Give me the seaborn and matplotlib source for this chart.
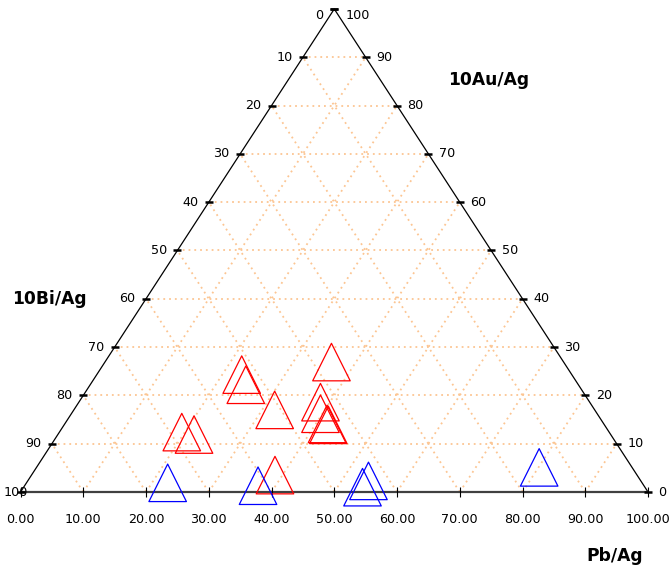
"""
Ternary diagram of Pb/Ag - 10Bi/Ag - 10Au/Ag with two sample groups.
"""
import numpy as np
import pandas as pd
import seaborn as sns
from matplotlib import pyplot as plt

# ternary compositions (percent)
red_pb = [23.1, 24.8, 32.0, 19.5, 21.7, 38.8, 36.1, 38.5, 39.7, 41.8, 42.1]
red_bi = [52.6, 53.0, 51.0, 68.1, 66.4, 57.7, 37.0, 42.9, 44.1, 44.1, 44.0]
red_au = [24.3, 22.2, 17.0, 12.4, 11.9, 3.5, 26.9, 18.6, 16.2, 14.1, 13.9]

blue_pb = [22.5, 37.2, 54.3, 54.0, 80.1]
blue_bi = [75.6, 61.5, 43.4, 45.0, 14.8]
blue_au = [1.9, 1.3, 2.3, 1.0, 5.1]

ticks = [0, 10, 20, 30, 40, 50, 60, 70, 80, 90, 100]
grid_levels = [10, 20, 30, 40, 50, 60, 70, 80, 90]

GRID_COLOR = "#fcc592"
FONT = 9.2


def to_xy(pb, bi, au):
    """Ternary -> cartesian: Pb corner bottom right, Bi bottom left, Au at top."""
    pb, bi, au = np.asarray(pb, float), np.asarray(bi, float), np.asarray(au, float)
    total = pb + bi + au
    x = 100 * (pb + au / 2) / total
    y = 100 * au / total
    return x, y


def build_df(pb, bi, au, group):
    x, y = to_xy(pb, bi, au)
    return pd.DataFrame({"x": x, "y": y, "group": group})


sns.set_style("white")
plt.rcParams.update({"text.color": "black", "font.family": ["DejaVu Sans"]})
fig = plt.figure(figsize=(6.72, 5.66), dpi=100)
ax = fig.add_axes([0, 0, 1, 1])
ax.set_xlim(-3.27, 103.82)
ax.set_ylim(-15.32, 101.86)
ax.axis("off")

# dotted grid, three families parallel to the sides
grid_kw = dict(color=GRID_COLOR, lw=1.3, ls=(0, (1, 2.2)), zorder=1)
for v in grid_levels:
    ax.plot([v / 2, 100 - v / 2], [v, v], **grid_kw)
    ax.plot([v, v + (100 - v) / 2], [0, 100 - v], **grid_kw)
    ax.plot([v, v / 2], [0, v], **grid_kw)

# triangle sides
ax.plot([0, 50, 100], [0, 100, 0], color="black", lw=0.9, zorder=2)
ax.plot([0, 100], [0, 0], color="#404040", lw=1.6, zorder=3)

# side ticks and labels
for v in ticks:
    # left axis (10Bi/Ag): value v sits at height 100 - v
    c = 100 - v
    ax.plot(c / 2, c, marker="_", ms=6, mew=1.8, color="black", zorder=4)
    if v == 0:
        off = (-8, -4.5)
    elif v == 100:
        off = (-12, 0)
    else:
        off = (-7.5, 0)
    ax.annotate(str(v), (c / 2, c), xytext=off, textcoords="offset points",
                ha="left" if v == 100 else "right", va="center", fontsize=FONT)
    # right axis (10Au/Ag): value v sits at height v
    ax.plot(100 - v / 2, v, marker="_", ms=6, mew=1.8, color="black", zorder=4)
    off = (8, -4.5) if v == 100 else (7.5, 0)
    ax.annotate(str(v), (100 - v / 2, v), xytext=off, textcoords="offset points",
                ha="left", va="center", fontsize=FONT)
    # bottom axis (Pb/Ag)
    ax.plot(v, 0, marker="|", ms=7, mew=0.8, color="black", zorder=4)
    ax.annotate(f"{v:.2f}", (v, 0), xytext=(0, -19.7), textcoords="offset points",
                ha="center", va="center", fontsize=FONT)

# axis titles
ax.text(68.1, 85.3, "10Au/Ag", fontsize=12.3, fontweight="bold", ha="left", va="center")
ax.text(-1.35, 40.0, "10Bi/Ag", fontsize=12.3, fontweight="bold", ha="left", va="center")
ax.text(99.2, -13.2, "Pb/Ag", fontsize=12.3, fontweight="bold", ha="right", va="center")

# sample points
red_df = build_df(red_pb, red_bi, red_au, "red")
blue_df = build_df(blue_pb, blue_bi, blue_au, "blue")
for df, col in [(red_df, "#ff0000"), (blue_df, "#0000ff")]:
    sns.scatterplot(data=df, x="x", y="y", marker="^", s=730, color=col,
                    facecolors="none", edgecolor=col, linewidth=0.9,
                    legend=False, ax=ax, zorder=5)

ax.set_xlim(-3.27, 103.82)
ax.set_ylim(-15.32, 101.86)
ax.set_xlabel("")
ax.set_ylabel("")
fig.savefig("out.png", dpi=100)
